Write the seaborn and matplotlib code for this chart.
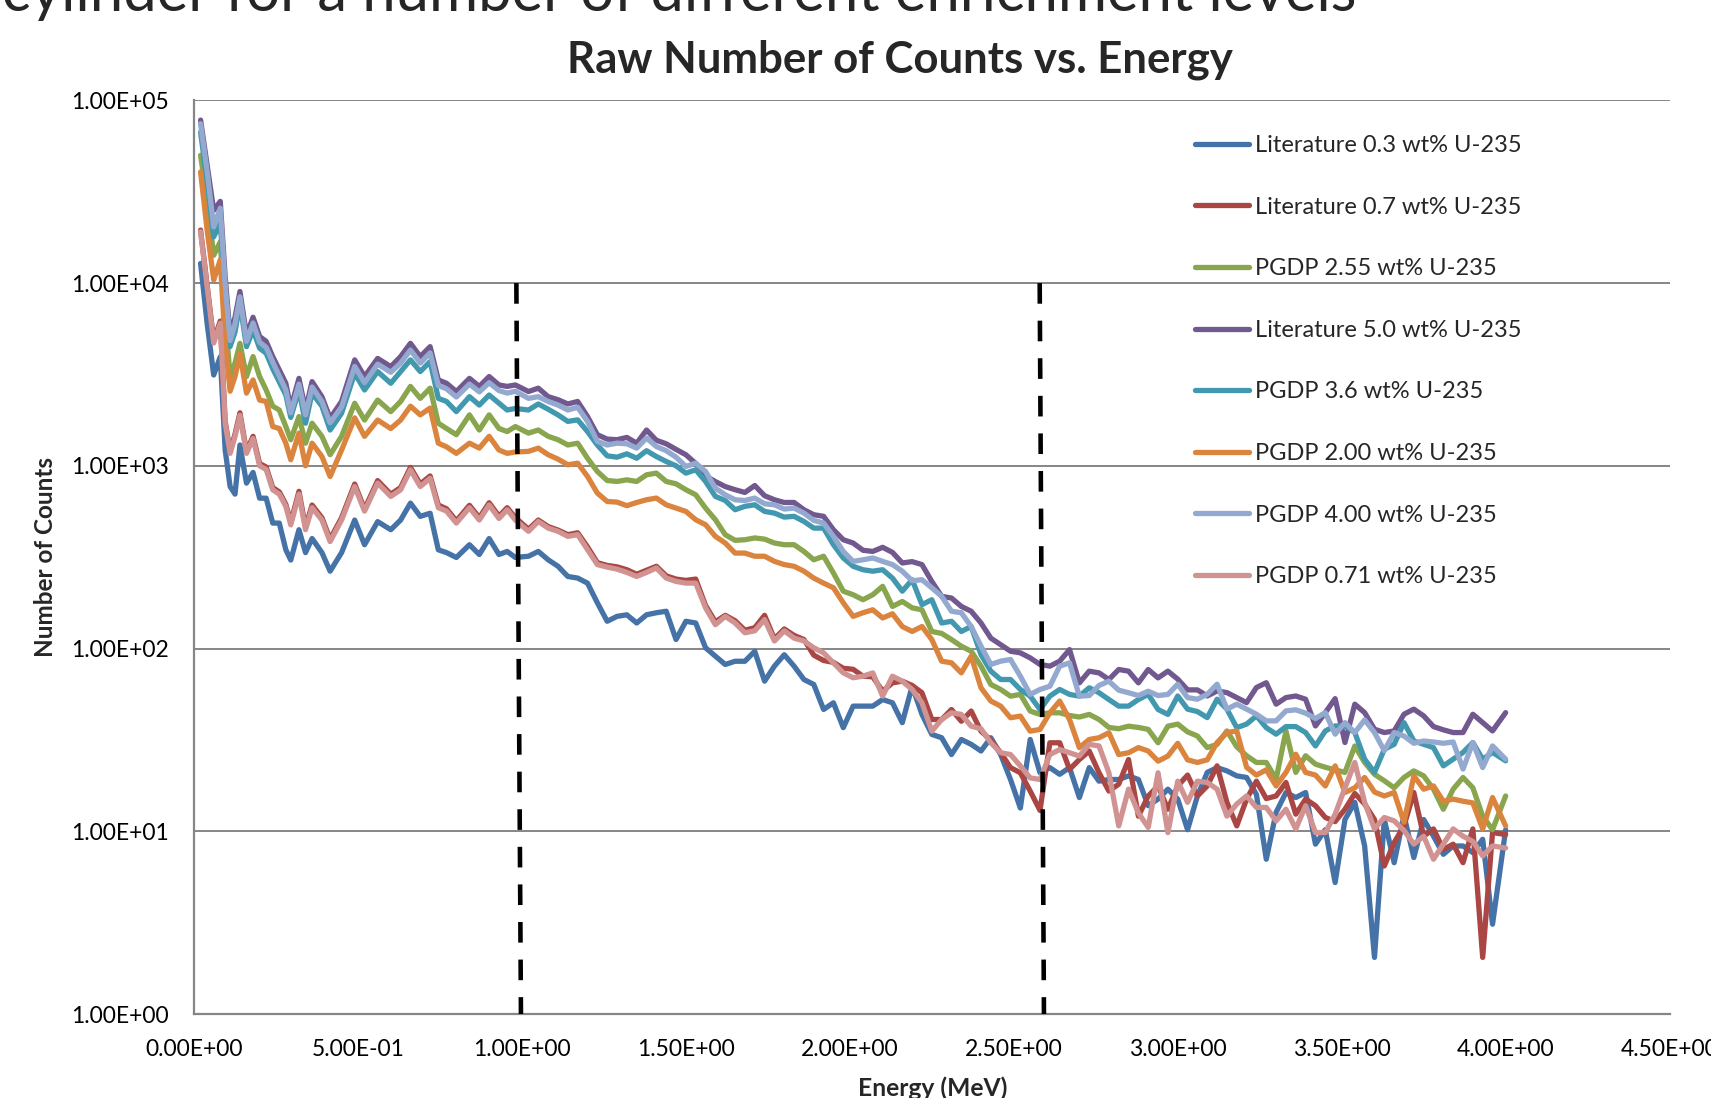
import pandas as pd
import seaborn as sns
import matplotlib.pyplot as plt
from matplotlib.ticker import FixedLocator, NullLocator

# energy grid (MeV)
energy_mev = [
    0.02, 0.04, 0.06, 0.08, 0.095, 0.11, 0.125, 0.14, 0.16, 0.18, 0.20, 0.22, 0.24,
    0.26, 0.28, 0.295, 0.32, 0.34, 0.36, 0.39, 0.415, 0.45, 0.49, 0.52, 0.56, 0.60,
    0.63, 0.66, 0.69, 0.72, 0.745, 0.77, 0.80, 0.84, 0.87, 0.90, 0.93, 0.955, 0.98,
    1.02, 1.05, 1.08, 1.11, 1.14, 1.17, 1.20, 1.23, 1.26, 1.29, 1.32, 1.35, 1.38,
    1.41, 1.44, 1.47, 1.50, 1.53, 1.56, 1.59, 1.62, 1.65, 1.68, 1.71, 1.74, 1.77,
    1.80, 1.83, 1.86, 1.89, 1.92, 1.95, 1.98, 2.01,
    2.04, 2.07, 2.10, 2.13, 2.16, 2.19, 2.22, 2.25, 2.28, 2.31, 2.34, 2.37, 2.40,
    2.43, 2.46, 2.49, 2.52, 2.55, 2.58, 2.61, 2.64, 2.67, 2.70, 2.73, 2.76, 2.79,
    2.82, 2.85, 2.88, 2.91, 2.94, 2.97,
    3.00, 3.03, 3.06, 3.09, 3.12, 3.15, 3.18, 3.21, 3.24, 3.27, 3.30, 3.33, 3.36,
    3.39, 3.42, 3.45, 3.48, 3.51, 3.54, 3.57, 3.60, 3.63, 3.66, 3.69, 3.72, 3.75,
    3.78, 3.81, 3.84, 3.87, 3.90, 3.93, 3.96, 4.00,
]

lit_03 = [
    12800, 6000, 3140, 3950, 1220, 770, 700, 1300, 804, 920, 665, 665, 486, 486, 347, 305, 447, 335, 400, 335,
    265, 335, 505, 370, 495, 447, 505, 625, 529, 550, 347, 335, 315, 370, 327, 400, 327, 340, 315,
    320, 340, 306, 282, 248, 243, 228, 178, 141, 150, 153, 138, 153, 157, 160, 112, 141, 138, 101, 90.8,
    81.8, 85.2, 85.2, 96.6, 66.3, 80.1, 92.5, 80.1, 67.7, 63.6, 46.4, 50.5, 36.9, 48.4,
    48.4, 48.4, 52.6, 50.5, 39.3, 62.2, 43.6, 33.9, 32.5, 26.3, 31.8, 29.9, 27.5, 32.5, 26.3, 19.2,
    13.4, 31.8, 20.9, 22.3, 20.5, 22.3, 15.3, 22.3, 18.8, 19.2, 19.2, 20.1, 19.2, 13.8, 15, 17,
    15, 10.2, 15.6, 21, 22.3, 21.4, 20.1, 19.7, 15.9, 7.03, 12.7, 16.3, 15.3, 16.3, 8.5, 10.2, 5.24,
    11.6, 14.4, 8.31, 2.04, 11.6, 6.73, 12.2, 7.18, 11.6, 9.4, 7.48, 8.31, 8.31, 7.64, 9.04, 3.1, 10.2,
]
lit_07 = [
    19500, 9700, 4850, 6200, 1750, 1200, 1490, 1950, 1200, 1450, 1030, 985, 760, 720, 615, 490, 725, 462, 610, 520,
    397, 520, 795, 580, 830, 700, 760, 980, 795, 880, 610, 582, 500, 608, 520, 628, 530, 590, 520,
    450, 505, 465, 445, 420, 430, 360, 295, 285, 280, 270, 255, 268, 282, 250, 240, 236, 240, 172, 140,
    152, 142, 126, 130, 152, 113, 128, 118, 112, 92, 86, 84, 78, 77,
    70.6, 70, 58.4, 64.9, 66.3, 62.8, 57.3, 40.9, 40.9, 46.4, 40, 45.5, 35.3, 31.5, 26.9, 22.3,
    20.9, 16.6, 13, 30.5, 30.5, 21.8, 24.7, 27.5, 20.9, 16.6, 18.1, 24.7, 12.1, 15.6, 17.7, 13.2,
    17.7, 20.3, 15.6, 17.7, 22.8, 14.4, 10.7, 15, 18.8, 15.1, 15.6, 18.5, 12.4, 15, 13.8, 11.9, 11.3,
    13.2, 16.1, 14.1, 11.6, 6.46, 8.67, 10.7, 16.3, 9.4, 10.3, 7.96, 8.5, 6.73, 10.3, 2.04, 9.84, 9.6,
]
pgdp_255 = [
    50000, 28500, 14200, 16800, 6500, 3080, 3650, 4680, 3080, 3960, 3080, 2600, 2120, 2020, 1640, 1390, 1860, 1330, 1710, 1450,
    1150, 1450, 2200, 1780, 2290, 1980, 2250, 2720, 2340, 2660, 1710, 1600, 1480, 1900, 1570, 1900, 1600, 1540, 1640,
    1510, 1570, 1450, 1390, 1300, 1330, 1100, 931, 831, 821, 838, 821, 893, 912, 821, 797, 740, 694, 587, 507,
    420, 391, 394, 403, 397, 378, 370, 370, 340, 306, 320, 259, 206, 197,
    185, 197, 219, 170, 181, 167, 163, 124, 121, 112, 103, 96.7, 80.1, 63.6, 59.7, 54.9,
    56.1, 45.5, 43.6, 44.5, 44.5, 43, 42.2, 43.6, 40.9, 37, 36.4, 37.6, 37, 36.1, 30.5, 37.6,
    38.6, 35, 33.2, 28.7, 29.9, 35.4, 29, 25.9, 23.8, 23.8, 19.3, 35.4, 21, 25.9, 23.3, 22.4, 21.7,
    21, 29.3, 23.8, 20.5, 18.9, 17.3, 19.7, 21.4, 20.1, 17, 13.2, 17, 19.7, 17.3, 12.1, 10.2, 15.6,
]
lit_50 = [
    78000, 44000, 25000, 28000, 10800, 5200, 6500, 9000, 5200, 6500, 5100, 4800, 3960, 3350, 2830, 2070, 3010, 2020, 2890, 2390,
    1820, 2250, 3800, 3080, 3870, 3490, 3960, 4680, 3960, 4490, 2950, 2830, 2550, 3010, 2720, 3080, 2770, 2720, 2770,
    2550, 2660, 2390, 2300, 2180, 2250, 1860, 1480, 1400, 1390, 1430, 1330, 1570, 1380, 1320, 1230, 1150, 1030, 880, 820,
    770, 740, 715, 780, 686, 652, 630, 630, 575, 540, 529, 447, 394, 378,
    345, 340, 358, 336, 294, 299, 288, 233, 193, 189, 170, 160, 138, 114, 105, 96.7,
    94.7, 88.9, 81.8, 80.1, 85.3, 98.7, 64.9, 75.2, 73.6, 67.7, 76.8, 75.2, 64.9, 76.8, 69.1, 75.2,
    68, 59.4, 59.4, 55, 58.6, 57.4, 53.9, 50.6, 61.2, 65, 49.6, 53.9, 55, 52.8, 37.7, 44.6, 53.2,
    30.6, 49.6, 44.6, 36.2, 34.7, 35.4, 43.7, 46.6, 42.8, 37.4, 35.9, 34.7, 34.7, 43.7, 39.3, 35.4, 44.6,
]
pgdp_36 = [
    67000, 36000, 17900, 21200, 9000, 4490, 5400, 7740, 4490, 5540, 4400, 4130, 3400, 2880, 2440, 1840, 2600, 1710, 2500, 2120,
    1570, 1940, 3210, 2600, 3280, 2830, 3280, 3800, 3280, 3720, 2340, 2250, 1980, 2390, 2150, 2440, 2200, 2020, 2060,
    2020, 2180, 2040, 1900, 1750, 1785, 1540, 1300, 1134, 1115, 1163, 1100, 1210, 1124, 1056, 1000, 912, 951, 821, 680,
    646, 575, 600, 612, 563, 551, 524, 529, 496, 456, 456, 370, 313, 282,
    270, 265, 270, 243, 206, 238, 174, 185, 138, 141, 124, 132, 92.7, 75.2, 67.7, 67.7,
    59.7, 54.9, 46.4, 54.9, 59.7, 56.1, 54.9, 61, 57.3, 52.6, 48.4, 48.4, 52.6, 56.1, 46.4, 43.6,
    55, 46.6, 45.2, 41.9, 52.8, 46.6, 36.9, 38.6, 42.8, 36.9, 34, 37.4, 37.4, 34.7, 29.3, 35.4, 37.7,
    37.7, 34.7, 24.8, 21, 28.1, 29.9, 39.3, 31.2, 29.9, 28.7, 22.8, 24.8, 27, 30.6, 24.8, 27, 24.3,
]
pgdp_200 = [
    40600, 19500, 10400, 13400, 4680, 2560, 3080, 4110, 2500, 2950, 2290, 2250, 1640, 1600, 1330, 1080, 1510, 1000, 1330, 1125,
    874, 1220, 1830, 1450, 1780, 1600, 1780, 2120, 1900, 2070, 1330, 1270, 1170, 1330, 1250, 1450, 1220, 1170, 1190,
    1200, 1250, 1150, 1088, 1013, 1034, 875, 709, 638, 633, 605, 630, 652, 666, 612, 587, 563, 507, 476, 411,
    378, 333, 333, 320, 320, 300, 288, 282, 265, 243, 228, 215, 178, 150,
    157, 163, 147, 155, 132, 124, 132, 112, 85.3, 83.5, 73.6, 90.8, 61, 51.6, 48.4, 41.8,
    42.7, 35.3, 36.1, 44.5, 51.6, 40.9, 28.7, 31.8, 32.5, 34.6, 26.3, 26.9, 28.7, 27.5, 24.2, 25.8,
    30.3, 24.6, 23.8, 24.6, 30.6, 34.7, 35.4, 22.4, 20.3, 21.7, 17.7, 21, 26.4, 21, 20.3, 17.7, 22.8,
    16.3, 17.3, 19.7, 16.4, 15.6, 16.3, 11.2, 20.1, 17, 17.7, 14.6, 15, 14.6, 14.3, 10.3, 15.3, 10.7,
]
pgdp_400 = [
    74500, 41000, 20300, 25700, 9800, 4850, 6000, 8400, 4800, 6050, 4750, 4450, 3700, 3100, 2600, 1950, 2800, 1900, 2700, 2250,
    1720, 2100, 3500, 2850, 3600, 3250, 3650, 4300, 3650, 4150, 2750, 2640, 2380, 2800, 2540, 2850, 2580, 2500, 2560,
    2340, 2390, 2250, 2150, 2020, 2090, 1750, 1360, 1300, 1330, 1320, 1250, 1420, 1275, 1210, 1115, 992, 1034, 931, 755,
    694, 652, 646, 666, 620, 612, 580, 587, 551, 503, 486, 411, 340, 300,
    306, 313, 300, 288, 265, 235, 238, 215, 193, 160, 157, 132, 103, 81.8, 85.3, 87.1,
    70.6, 56.1, 59.7, 62.2, 80.1, 83.5, 54.9, 55.3, 62.8, 66.3, 59.2, 57.3, 55.3, 58.4, 55.3, 56.1,
    63.8, 53.9, 52.8, 56.2, 63.8, 46.6, 49.6, 46.6, 43.7, 40.2, 40.2, 45.6, 46.2, 44.3, 41.4, 44.6, 34,
    39.3, 34.7, 40.7, 34.7, 27.6, 34.7, 33.2, 30.3, 31.2, 30.8, 30.3, 30.8, 21.9, 30.6, 22.3, 29.3, 24.8,
]
pgdp_071 = [
    19100, 9550, 4700, 6030, 1710, 1170, 1450, 1890, 1170, 1410, 1000, 955, 739, 700, 600, 475, 700, 447, 590, 505,
    385, 505, 770, 565, 804, 680, 739, 951, 770, 855, 590, 565, 486, 590, 505, 610, 515, 575, 505,
    438, 496, 456, 438, 411, 420, 348, 288, 279, 272, 261, 248, 261, 276, 243, 233, 228, 228, 167, 135,
    150, 138, 122, 125, 144, 110, 125, 114, 110, 101, 94.7, 83.5, 73.6, 69.2,
    70.6, 73.6, 54.9, 70.6, 66.3, 59.7, 50.5, 35.3, 40.9, 44.5, 43.6, 37.6, 36.4, 30.5, 26.9, 26.3,
    22.8, 19.6, 19.2, 26.3, 28, 26.9, 25.8, 29.9, 29.3, 20.9, 10.7, 17, 12.6, 10.5, 20.9, 9.83,
    18.8, 14.4, 18.8, 18.5, 17, 12.1, 14.1, 15.6, 13.5, 13.5, 11.4, 13.2, 10.3, 13.8, 9.84, 9.84, 12.4,
    17.3, 23.8, 14.4, 10.3, 11.9, 11.4, 10.1, 8.5, 9.4, 7.03, 8.5, 10.3, 9.4, 8.8, 7.33, 8.31, 8.1,
]

series_names = [
    'Literature 0.3 wt% U-235', 'Literature 0.7 wt% U-235', 'PGDP 2.55 wt% U-235',
    'Literature 5.0 wt% U-235', 'PGDP 3.6 wt% U-235', 'PGDP 2.00 wt% U-235',
    'PGDP 4.00 wt% U-235', 'PGDP 0.71 wt% U-235'
]
series_counts = [lit_03, lit_07, pgdp_255, lit_50, pgdp_36, pgdp_200, pgdp_400, pgdp_071]
series_colors = ['#4572A7', '#AA4643', '#89A54E', '#71588F',
                 '#4198AF', '#DB843D', '#93A9CF', '#D19392']

x_ticks = [0.0, 0.5, 1.0, 1.5, 2.0, 2.5, 3.0, 3.5, 4.0, 4.5]
x_tick_labels = ['0.00E+00', '5.00E-01', '1.00E+00', '1.50E+00', '2.00E+00',
                 '2.50E+00', '3.00E+00', '3.50E+00', '4.00E+00', '4.50E+00']
y_ticks = [1, 10, 100, 1000, 10000, 100000]
y_tick_labels = ['1.00E+00', '1.00E+01', '1.00E+02', '1.00E+03', '1.00E+04', '1.00E+05']

# hand-drawn dashed markers: energy at top (1E4) and at bottom (1E0)
marker_top_mev = [0.983, 2.579]
marker_bottom_mev = [0.997, 2.592]


def main():
    frames = []
    for name, counts in zip(series_names, series_counts):
        frames.append(pd.DataFrame({'Energy': energy_mev, 'Counts': counts, 'Series': name}))
    df = pd.concat(frames, ignore_index=True)

    sns.set_style('white')
    plt.rcParams['font.family'] = ['Lato', 'DejaVu Sans']

    fig = plt.figure(figsize=(17.11, 10.98), dpi=100)
    ax = fig.add_axes([0.1134, 0.0765, 0.8624, 0.8321])

    sns.lineplot(data=df, x='Energy', y='Counts', hue='Series',
                 hue_order=series_names,
                 palette=dict(zip(series_names, series_colors)),
                 estimator=None, sort=False, linewidth=3.8,
                 solid_joinstyle='round', solid_capstyle='round',
                 legend=False, ax=ax)
    handles = list(ax.lines[:len(series_names)])

    for top, bottom in zip(marker_top_mev, marker_bottom_mev):
        ax.plot([top, bottom], [1e4, 1], color='black', linewidth=3.3,
                dashes=(4.5, 3.7), zorder=5)

    ax.set_yscale('log')
    ax.set_xlim(0, 4.5)
    ax.set_ylim(1, 1e5)
    ax.yaxis.set_major_locator(FixedLocator(y_ticks))
    ax.yaxis.set_minor_locator(NullLocator())
    ax.set_yticklabels(y_tick_labels)
    ax.xaxis.set_major_locator(FixedLocator(x_ticks))
    ax.set_xticklabels(x_tick_labels)
    ax.set_xlabel('')
    ax.set_ylabel('')

    ax.set_axisbelow(True)
    ax.grid(axis='y', color='#868686', linewidth=1.4)
    ax.grid(axis='x', visible=False)
    for side in ['top', 'right']:
        ax.spines[side].set_visible(False)
    for side in ['left', 'bottom']:
        ax.spines[side].set_color('#868686')
        ax.spines[side].set_linewidth(1.6)
    ax.tick_params(axis='both', direction='out', length=5, width=1.4,
                   color='#868686', labelcolor='black', labelsize=16.5)
    ax.tick_params(axis='x', pad=13)
    ax.tick_params(axis='y', pad=13)

    ax.legend(handles, series_names, loc='upper left',
              bbox_to_anchor=(1195 / 1711, 1 - 135 / 1098),
              bbox_transform=fig.transFigure, frameon=False,
              fontsize=17, handlelength=2.3, handletextpad=0.25,
              labelspacing=1.72, borderpad=0, borderaxespad=0)

    fig.text(0.001, 1 - 11 / 1098, 'cylinder for a number of different enrichment levels',
             ha='left', va='baseline', fontsize=43)
    fig.text(900 / 1711, 1 - 72 / 1098, 'Raw Number of Counts vs. Energy',
             ha='center', va='baseline', fontsize=31.5, fontweight='bold')
    fig.text(46 / 1711, 1 - 557 / 1098, 'Number of Counts', rotation=90,
             ha='center', va='center', fontsize=17.5, fontweight='bold')
    fig.text(933 / 1711, 1 - 1076 / 1098, 'Energy (MeV)',
             ha='center', va='top', fontsize=17.7, fontweight='bold')

    fig.savefig('out.png', dpi=100)


if __name__ == '__main__':
    main()
